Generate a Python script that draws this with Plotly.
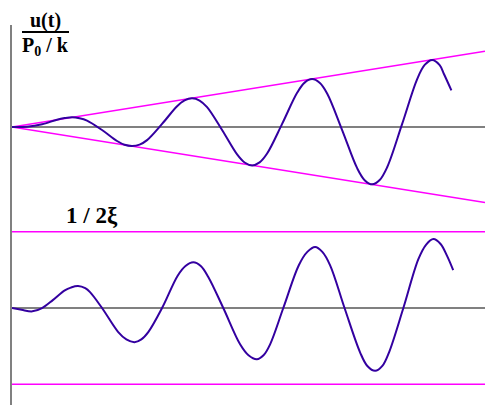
import plotly.graph_objects as go

# Time axis in units of the forcing period, t / T
t_top = [0, 0.125, 0.25, 0.375, 0.4375, 0.5, 0.5625, 0.625, 0.75, 0.875, 0.9375, 1.0,
         1.0625, 1.125, 1.25, 1.375, 1.4375, 1.5, 1.5625, 1.625, 1.75, 1.875, 1.9375,
         2.0, 2.0625, 2.125, 2.25, 2.375, 2.4375, 2.5, 2.5625, 2.625, 2.75, 2.875,
         2.9375, 3.0, 3.0625, 3.125, 3.25, 3.375, 3.4375, 3.5, 3.5625, 3.6, 3.66]
# Undamped response at resonance, u(t) / (P0/k)
u_top = [0, 0.05, 0.45, 1.2, 1.46, 1.6, 1.44, 1.05, -0.5, -2.3, -2.91, -3.1,
         -2.89, -2.15, 0.5, 3.4, 4.36, 4.7, 4.34, 3.25, -0.5, -4.5, -5.82,
         -6.3, -5.8, -4.35, 0.5, 5.6, 7.27, 7.85, 7.25, 5.5, -0.5, -6.75,
         -8.72, -9.4, -8.7, -6.6, 0.5, 7.85, 10.17, 11.0, 10.15, 8.6, 6.0]

# Linear envelope of the undamped response
env_t = [0, 3.94]
env_u = [0, 12.4]

# Damped response at resonance, approaching the 1/2xi amplitude
t_bot = [0, 0.08, 0.17, 0.25, 0.34, 0.44, 0.49, 0.55, 0.61, 0.65, 0.75,
         0.885, 0.9525, 1.02, 1.0775, 1.135, 1.25,
         1.38, 1.445, 1.51, 1.5725, 1.635, 1.76,
         1.9, 1.97, 2.04, 2.095, 2.15, 2.26,
         2.39, 2.46, 2.525, 2.585, 2.65, 2.77,
         2.9, 2.96, 3.025, 3.085, 3.14, 3.26,
         3.385, 3.45, 3.51, 3.57, 3.625, 3.675]
u_bot = [0, -0.3, -0.55, 0, 1.3, 2.9, 3.35, 3.6, 3.25, 2.6, 0,
         -3.95, -5.15, -5.6, -5.15, -3.95, 0,
         5.3, 6.9, 7.5, 6.9, 5.1, 0,
         -5.95, -7.75, -8.4, -7.75, -5.95, 0,
         7.05, 9.2, 10.0, 9.2, 7.0, 0,
         -7.3, -9.5, -10.3, -9.5, -7.3, 0,
         8.0, 10.4, 11.3, 10.5, 8.5, 6.2]

# Steady-state amplitude 1/2xi
amp_t = [0, 3.94]
amp_u = [12.5, 12.5]

CURVE = "#3300a0"
MAGENTA = "#ff00ff"
GRAY = "#808080"

fig = go.Figure()

# Top panel
fig.add_trace(go.Scatter(x=env_t, y=env_u, mode="lines",
                         line=dict(color=MAGENTA, width=1.5), yaxis="y"))
fig.add_trace(go.Scatter(x=env_t, y=[-v for v in env_u], mode="lines",
                         line=dict(color=MAGENTA, width=1.5), yaxis="y"))
fig.add_trace(go.Scatter(x=t_top, y=u_top, mode="lines",
                         line=dict(color=CURVE, width=2, shape="spline", smoothing=1),
                         yaxis="y"))

# Bottom panel
fig.add_trace(go.Scatter(x=amp_t, y=amp_u, mode="lines",
                         line=dict(color=MAGENTA, width=1.5), yaxis="y2"))
fig.add_trace(go.Scatter(x=amp_t, y=[-v for v in amp_u], mode="lines",
                         line=dict(color=MAGENTA, width=1.5), yaxis="y2"))
fig.add_trace(go.Scatter(x=t_bot, y=u_bot, mode="lines",
                         line=dict(color=CURVE, width=2, shape="spline", smoothing=1),
                         yaxis="y2"))

W, H = 485, 405
split = 1 - 215 / H
top_edge = 1 - 25 / H

axis_common = dict(showgrid=False, showticklabels=False, ticks="",
                   zeroline=True, zerolinecolor=GRAY, zerolinewidth=1.5,
                   showline=True, linecolor=GRAY, linewidth=2, fixedrange=True)

fig.update_layout(
    width=W, height=H,
    margin=dict(l=0, r=0, t=0, b=0),
    paper_bgcolor="white", plot_bgcolor="white",
    showlegend=False,
    xaxis=dict(domain=[12 / W, 1], range=[0, 3.94], showgrid=False,
               zeroline=False, showline=False, showticklabels=False, ticks=""),
    yaxis=dict(domain=[split, top_edge], range=[-14.43, 16.72], **axis_common),
    yaxis2=dict(domain=[0, split], range=[-15.9, 15.25], **axis_common),
)

label_font = dict(family="Liberation Serif", size=20, color="black")

fig.add_annotation(text="<b>u(t)</b>", xref="paper", yref="paper",
                   x=45 / W, y=1 - 21 / H, showarrow=False, font=label_font,
                   xanchor="center", yanchor="middle")
fig.add_annotation(text="<b>P<sub>0</sub> / k</b>", xref="paper", yref="paper",
                   x=45 / W, y=1 - 47 / H, showarrow=False, font=label_font,
                   xanchor="center", yanchor="middle")
fig.add_shape(type="line", xref="paper", yref="paper",
              x0=22 / W, x1=69 / W, y0=1 - 32 / H, y1=1 - 32 / H,
              line=dict(color="black", width=2))
fig.add_annotation(text="<b>1 / 2ξ</b>", xref="paper", yref="paper",
                   x=92 / W, y=1 - 215 / H, showarrow=False,
                   font=dict(family="Liberation Serif", size=23, color="black"),
                   xanchor="center", yanchor="middle")

fig.write_html("out.html")
